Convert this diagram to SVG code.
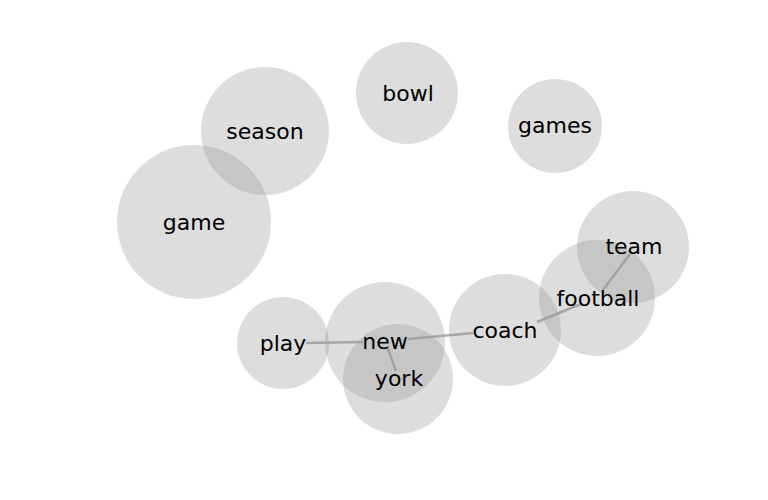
<svg xmlns="http://www.w3.org/2000/svg" width="768" height="500" viewBox="0 0 768 500">
<style>
.bg{fill:#fff}
.n circle{fill:#999;fill-opacity:0.33}
.n text{font-family:"DejaVu Sans",sans-serif;font-size:22px;fill:#000;text-anchor:middle;dominant-baseline:central}
#edges line{stroke:#999;stroke-width:2.6;stroke-opacity:0.8;stroke-linecap:butt}
</style>
<rect class="bg" width="768" height="500"/>
<g id="circles">
<g class="n" id="n-bowl"><circle cx="407" cy="93" r="51"/></g>
<g class="n" id="n-games"><circle cx="555" cy="126" r="47"/></g>
<g class="n" id="n-season"><circle cx="265" cy="131" r="64"/></g>
<g class="n" id="n-game"><circle cx="194" cy="222" r="77"/></g>
<g class="n" id="n-team"><circle cx="633" cy="247" r="56"/></g>
<g class="n" id="n-football"><circle cx="597" cy="298" r="58"/></g>
<g class="n" id="n-coach"><circle cx="505" cy="330" r="56"/></g>
<g class="n" id="n-new"><circle cx="385" cy="342" r="60"/></g>
<g class="n" id="n-york"><circle cx="398" cy="379" r="55"/></g>
<g class="n" id="n-play"><circle cx="283" cy="343" r="46"/></g>
</g>
<g id="edges">
<line x1="306" y1="343" x2="363" y2="342"/>
<line x1="388" y1="349" x2="396" y2="371"/>
<line x1="408" y1="339" x2="473" y2="333"/>
<line x1="537" y1="322" x2="581" y2="304"/>
<line x1="603" y1="290" x2="630" y2="254"/>
</g>
<g id="labels" class="n">
<text x="408" y="93">bowl</text>
<text x="555" y="125">games</text>
<text x="265" y="131">season</text>
<text x="194" y="222">game</text>
<text x="634" y="246">team</text>
<text x="598" y="298">football</text>
<text x="505" y="330">coach</text>
<text x="385" y="341">new</text>
<text x="399" y="378">york</text>
<text x="283" y="343">play</text>
</g>
</svg>
